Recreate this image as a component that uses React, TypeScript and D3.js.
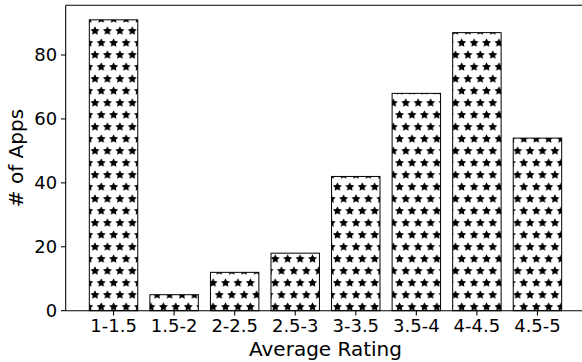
import React from 'react'
import * as d3 from 'd3'

// values
const categories = ['1-1.5', '1.5-2', '2-2.5', '2.5-3', '3-3.5', '3.5-4', '4-4.5', '4.5-5']
const counts = [91, 5, 12, 18, 42, 68, 87, 54]
const yTicks = [0, 20, 40, 60, 80]

const W = 582
const H = 362
const margin = { top: 5.3, right: -3.3, bottom: 51.3, left: 65.7 }
const FONT = "'DejaVu Sans', sans-serif"

// star points for the "*" hatch
const starPath = (r: number) => {
  const pts: [number, number][] = []
  for (let i = 0; i < 10; i++) {
    pts.push([(i * Math.PI) / 5, i % 2 === 0 ? r : r * 0.5])
  }
  return d3.lineRadial().curve(d3.curveLinearClosed)(pts) as string
}

export default function App() {
  const innerW = W - margin.left - margin.right
  const innerH = H - margin.top - margin.bottom

  const n = categories.length
  const x = d3.scaleLinear().domain([-0.79, n - 1 + 0.79]).range([0, innerW])
  const y = d3.scaleLinear().domain([0, 95.55]).range([innerH, 0])
  const barW = x(0.8) - x(0)

  const star = starPath(4.7)
  const tw = 12.43
  const th = 24
  const starSpots: [number, number][] = [[0, 0], [tw, 0], [tw / 2, th / 2], [0, th], [tw, th]]

  return (
    <svg width={W} height={H} style={{ position: 'absolute', left: 0, top: 0, display: 'block', background: '#fff' }}>
      <defs>
        <pattern id="stars" patternUnits="userSpaceOnUse" x={95 - margin.left} y={31 - margin.top} width={tw} height={th}>
          <rect width={tw} height={th} fill="#fff" />
          {starSpots.map((p, i) => (
            <path key={i} d={star} transform={`translate(${p[0]},${p[1]})`} fill="#000" />
          ))}
        </pattern>
      </defs>
      <g transform={`translate(${margin.left},${margin.top})`}>
        {counts.map((v, i) => (
          <rect
            key={categories[i]}
            x={x(i) - barW / 2}
            y={y(v)}
            width={barW}
            height={y(0) - y(v)}
            fill="url(#stars)"
            stroke="#000"
            strokeWidth={1}
          />
        ))}

        {/* spines (right one falls outside the picture) */}
        <line x1={0} x2={0} y1={0} y2={innerH} stroke="#000" strokeWidth={1.07} />
        <line x1={0} x2={innerW} y1={0} y2={0} stroke="#000" strokeWidth={1.07} />
        <line x1={0} x2={innerW} y1={innerH} y2={innerH} stroke="#000" strokeWidth={1.07} />

        {/* y axis */}
        {yTicks.map(t => (
          <g key={t} transform={`translate(0,${y(t)})`}>
            <line x1={-4.7} x2={0} stroke="#000" strokeWidth={1.07} />
            <text x={-8.5} dy="0.36em" textAnchor="end" fontFamily={FONT} fontSize={18}>{t}</text>
          </g>
        ))}
        <text
          transform={`translate(${16 - margin.left},${innerH / 2}) rotate(-90)`}
          textAnchor="middle"
          dy="0.36em"
          fontFamily={FONT}
          fontSize={20}
        >
          # of Apps
        </text>

        {/* x axis */}
        {categories.map((c, i) => (
          <g key={c} transform={`translate(${x(i)},${innerH})`}>
            <line y1={0} y2={4.7} stroke="#000" strokeWidth={1.07} />
            <text y={21.5} textAnchor="middle" fontFamily={FONT} fontSize={18}>{c}</text>
          </g>
        ))}
        <text x={(325.5 - margin.left)} y={355.7 - margin.top} textAnchor="middle" fontFamily={FONT} fontSize={20}>
          Average Rating
        </text>
      </g>
    </svg>
  )
}
